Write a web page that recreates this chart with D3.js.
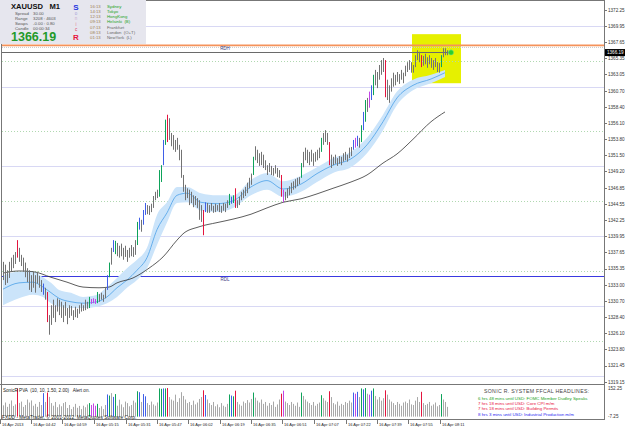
<!DOCTYPE html>
<html><head><meta charset="utf-8">
<script src="https://cdn.jsdelivr.net/npm/d3@7"></script>
<style>body{margin:0;background:#fff}svg{display:block}text{font-family:"Liberation Sans",Arial,sans-serif}</style>
</head><body><svg id="c" width="625" height="429"></svg>
<script>
// ---------- DATA ----------
const highs=[1336.3,1335.9,1335.1,1336.3,1336.9,1337.3,1337.7,1339.4,1338.3,1337.3,1336.9,1336.2,1335.4,1335.1,1334.4,1334.9,1334.4,1334.9,1334.3,1333.7,
1333.2,1332.6,1332.0,1328.7,1330.1,1330.9,1330.1,1331.1,1330.9,1330.6,1330.1,1330.6,1329.7,1330.1,1330.0,1329.4,1329.9,1329.6,1330.1,1330.4,
1330.1,1330.9,1330.6,1331.3,1331.0,1331.1,1331.0,1332.0,1331.7,1331.9,1331.6,1332.7,1334.4,1336.2,1338.3,1339.4,1339.3,1339.0,1338.6,1338.9,
1338.3,1338.6,1338.0,1338.3,1338.7,1338.4,1339.4,1342.0,1342.6,1342.3,1343.7,1344.7,1344.4,1344.3,1344.6,1345.7,1346.3,1346.6,1349.4,1350.1,
1353.7,1356.6,1357.3,1356.8,1354.7,1354.4,1353.7,1354.0,1353.0,1352.3,1348.7,1347.3,1346.8,1346.6,1346.3,1345.8,1345.7,1345.4,1345.1,1344.4,
1343.7,1344.8,1344.7,1344.4,1344.7,1344.3,1344.6,1344.4,1344.7,1344.3,1344.7,1344.6,1345.1,1346.0,1345.6,1345.8,1346.8,1345.1,1345.6,1346.3,
1346.6,1347.0,1347.6,1348.3,1348.9,1351.3,1352.8,1352.3,1351.8,1352.0,1351.6,1350.8,1350.1,1350.4,1350.0,1349.7,1350.1,1349.7,1349.4,1348.7,
1346.6,1346.3,1346.8,1347.1,1347.6,1347.8,1348.1,1348.3,1348.4,1350.4,1352.0,1352.6,1352.3,1352.0,1352.3,1351.8,1352.0,1352.3,1352.6,1354.0,
1354.7,1355.1,1354.7,1353.4,1351.6,1351.3,1351.6,1351.1,1351.4,1351.3,1351.8,1352.0,1351.6,1352.6,1352.7,1353.7,1354.0,1354.3,1354.0,1355.8,
1357.7,1359.4,1359.7,1360.6,1361.5,1363.0,1363.7,1363.4,1364.4,1365.1,1365.4,1365.1,1362.3,1361.5,1362.5,1363.3,1363.0,1363.4,1363.1,1363.7,
1363.3,1364.3,1364.8,1365.1,1364.8,1364.4,1365.8,1366.5,1366.3,1365.8,1365.7,1366.0,1365.5,1365.8,1365.4,1365.1,1365.4,1364.8,1364.7,1365.8,
1366.8,1366.8,1366.5];
const lows=[1333.7,1333.0,1333.3,1334.0,1334.9,1335.4,1336.0,1336.9,1336.3,1335.7,1334.9,1334.1,1333.4,1332.3,1332.0,1332.6,1331.9,1333.2,1332.6,1332.0,
1331.6,1330.9,1327.7,1325.9,1327.3,1328.3,1327.7,1329.2,1328.7,1328.3,1327.7,1328.6,1327.4,1328.3,1328.6,1328.0,1328.4,1328.3,1328.9,1329.2,
1329.3,1329.4,1329.6,1329.7,1330.3,1330.4,1330.3,1330.4,1330.6,1330.9,1330.6,1331.1,1332.3,1334.1,1335.9,1337.7,1337.4,1337.1,1336.9,1337.1,
1336.6,1337.0,1336.3,1336.9,1337.1,1337.0,1337.3,1338.7,1340.9,1340.6,1341.6,1343.0,1343.1,1343.0,1343.4,1344.0,1345.1,1345.4,1345.6,1347.7,
1350.1,1353.0,1353.4,1353.7,1352.8,1352.3,1352.0,1352.3,1350.8,1348.3,1346.3,1345.1,1345.4,1344.4,1344.7,1344.1,1344.4,1344.0,1342.3,1342.0,
1340.1,1343.4,1343.3,1343.3,1343.6,1343.3,1343.4,1343.6,1343.4,1343.3,1343.6,1343.4,1344.0,1344.4,1344.6,1344.7,1344.0,1344.0,1344.4,1345.1,
1345.4,1345.7,1346.1,1346.8,1347.3,1348.7,1350.8,1350.4,1350.0,1350.1,1349.7,1349.4,1348.7,1349.1,1348.7,1348.6,1348.9,1348.4,1348.3,1345.6,
1344.8,1345.1,1345.4,1345.8,1346.1,1346.6,1346.8,1347.1,1347.4,1348.3,1349.8,1350.8,1350.4,1350.1,1350.6,1350.0,1350.6,1350.8,1351.1,1352.0,
1353.0,1353.4,1353.0,1350.1,1349.7,1350.1,1350.3,1350.0,1350.3,1350.1,1350.6,1350.8,1350.6,1351.1,1351.4,1352.3,1352.6,1352.8,1352.6,1353.4,
1355.1,1356.3,1357.7,1358.3,1359.4,1360.1,1361.5,1361.1,1362.3,1363.0,1363.4,1359.8,1359.4,1359.0,1360.6,1361.3,1361.5,1362.0,1361.7,1362.3,
1361.8,1362.8,1363.4,1363.7,1363.3,1363.3,1364.1,1365.1,1364.8,1364.1,1364.3,1364.5,1364.0,1364.5,1364.0,1363.7,1364.1,1363.4,1363.3,1364.1,
1365.5,1365.8,1365.8];
const volumes=[60,75,52,68,86,57,65,150,73,80,52,62,91,75,86,58,68,52,78,62,
125,78,128,105,72,58,78,50,65,55,72,78,46,62,40,52,68,47,57,40,58,50,65,
72,62,70,58,68,46,55,40,62,
118,112,125,105,120,58,90,65,50,80,72,55,62,85,75,
135,130,78,120,108,72,62,80,65,58,75,
150,148,150,150,152,104,91,85,117,78,98,
130,110,91,72,78,62,85,65,75,94,104,
140,115,91,72,62,78,55,65,50,72,58,52,68,
118,112,108,138,78,65,58,80,72,88,75,94,
128,101,85,75,91,68,78,58,72,62,80,52,65,91,
122,138,80,72,62,78,68,58,75,52,
128,110,91,80,72,62,78,58,68,75,114,98,85,78,
135,104,72,65,80,58,68,62,78,72,85,75,
128,122,132,104,150,145,152,122,117,138,150,
110,91,104,85,98,140,117,91,80,72,62,78,68,58,75,80,72,91,65,62,
85,104,78,132,72,62,68,78,58,65,75,55,62,120,91,78,52];
const redBars=[7,22,82,100,116,139,163,191,209];
const blueBars=[20,52,55,68,70,71,80,101,114,175,177,180,184];
const greenBars=[43,47,53,56,67,78,79,81,113,115,125,149,159,179,181,185,219];
const magentaBars=[44,45,46,140,176,183];

const bandBars =[0,8,15,20,24,28,34,40,47,52,57,62,67,72,77,82,87,92,99,107,115,124,132,140,149,157,165,174,182,190,197,205,214,221];
const bandHigh =[1334.4,1334.9,1334.9,1334.1,1333.3,1332.3,1331.9,1331.3,1331.6,1332.7,1334.0,1335.4,1336.6,1338.3,1343.0,1344.8,1347.0,1347.0,1346.1,1345.8,1345.8,1348.0,1349.0,1347.8,1348.6,1349.8,1351.1,1352.0,1354.0,1357.3,1360.6,1362.3,1363.0,1363.7];
const bandLow  =[1330.1,1331.1,1331.6,1331.3,1330.4,1329.9,1329.7,1329.7,1329.9,1330.4,1331.3,1332.6,1333.7,1335.4,1338.7,1341.9,1344.7,1344.8,1343.6,1343.4,1344.0,1345.8,1346.6,1345.6,1346.3,1347.7,1349.0,1349.8,1351.8,1355.1,1358.7,1360.8,1361.8,1362.7];
const bandMid  =[1332.4,1333.3,1333.4,1332.7,1331.9,1331.1,1330.6,1330.4,1330.6,1331.3,1332.6,1333.7,1335.1,1336.9,1340.9,1343.3,1345.8,1346.1,1344.8,1344.6,1345.0,1347.0,1347.9,1346.7,1347.4,1348.9,1350.1,1351.0,1353.0,1356.3,1359.7,1361.5,1362.4,1363.3];
const maBars  =[0,8,15,24,32,40,48,53,57,65,73,80,87,90,98,107,115,124,132,140,149,157,165,174,182,190,197,205,214,221];
const maValues=[1334.7,1335.0,1334.9,1334.1,1333.4,1332.7,1332.6,1332.7,1333.3,1334.0,1335.4,1337.0,1339.4,1340.3,1341.3,1341.9,1342.4,1343.1,1344.0,1344.8,1345.3,1346.0,1346.8,1347.7,1348.7,1350.4,1351.7,1353.8,1356.3,1357.7];

const priceTicks=[1372.25,1369.95,1367.65,1365.35,1363.05,1360.70,1358.40,1356.10,1353.80,1351.50,1349.20,1346.85,1344.55,1342.25,1339.95,1337.65,1335.35,1333.00,1330.70,1328.40,1326.10,1323.80,1321.45,1319.15];
const timeLabels=["16 Apr 2013","16 Apr 04:42","16 Apr 04:59","16 Apr 05:15","16 Apr 05:31","16 Apr 05:47","16 Apr 06:02","16 Apr 06:19","16 Apr 06:35","16 Apr 06:51","16 Apr 07:07","16 Apr 07:22","16 Apr 07:39","16 Apr 07:55","16 Apr 08:11"];
const timeLabelBars=[-1,14.5,30,46,62,77.5,93,109,124.5,140,156,172,187.5,203,219];
const solidLevels=[1370,1361.25,1350,1340,1330,1320];
const dottedLevels=[1365,1355,1345,1335,1325];
const lastPrice=1366.19;
const rdh=1367.2, rdl=1334.3;
const volTicks=[152.25,-7.25];
const headlines=[
 {t:"6 hrs 48 mins until USD: FOMC Member Dudley Speaks",c:"#1aa31a"},
 {t:"7 hrs 18 mins until USD: Core CPI m/m",c:"#e8103a"},
 {t:"7 hrs 18 mins until USD: Building Permits",c:"#e8103a"},
 {t:"8 hrs 3 mins until USD: Industrial Production m/m",c:"#2a2af0"}];
const sessions=[
 ["16:13","Sydney",1],["14:13","Tokyo",1],["12:13","HongKong",1],["09:13","Helsinki  (B)",1],
 ["07:13","Frankfurt",0],["08:13","London  (O+T)",0],["01:13","NewYork  (L)",0]];
const infoRows=[["Spread","30.00"],["Range","3208 : 4603"],["Swaps","-0.00 : 0.80"],["Candle","00:00:34"]];

// ---------- CHART ----------
const svg=d3.select("#c");
const x=d3.scaleLinear().domain([0,301]).range([3,605]);
const y=d3.scaleLinear().domain([1319.15,1372.25]).range([382,10]);
const yv=d3.scaleLinear().domain([-7.25,152.25]).range([418,388]);
const L=2,R=604,T=1,B=383;
const colorOf=i=>redBars.includes(i)?"#e4143e":blueBars.includes(i)?"#3f5fe8":greenBars.includes(i)?"#0ea35a":magentaBars.includes(i)?"#c445e6":null;

svg.append("rect").attr("width",625).attr("height",429).attr("fill","#fff");
svg.append("defs").append("clipPath").attr("id","cp").append("rect").attr("x",L).attr("y",T).attr("width",R-L).attr("height",B-T);
const g=svg.append("g").attr("clip-path","url(#cp)");

g.append("rect").attr("x",x(204.5)).attr("y",y(1368.8)).attr("width",x(229)-x(204.5)).attr("height",y(1361.8)-y(1368.8)).attr("fill","#e6f000");

g.selectAll(".sl").data(solidLevels).join("line").attr("x1",L).attr("x2",R).attr("y1",d=>Math.round(y(d))+0.5).attr("y2",d=>Math.round(y(d))+0.5).attr("stroke","#d8d8f4").attr("stroke-width",1);
g.selectAll(".dl").data(dottedLevels).join("line").attr("x1",L).attr("x2",R).attr("y1",d=>Math.round(y(d))+0.5).attr("y2",d=>Math.round(y(d))+0.5).attr("stroke","#b0d8b0").attr("stroke-dasharray","1,2");

g.append("line").attr("x1",L).attr("x2",R).attr("y1",y(rdh)).attr("y2",y(rdh)).attr("stroke","#f5925a").attr("stroke-width",1.6);
g.append("line").attr("x1",L).attr("x2",R).attr("y1",y(rdh)+2).attr("y2",y(rdh)+2).attr("stroke","#c8c8c8").attr("stroke-dasharray","1,1");
g.append("line").attr("x1",L).attr("x2",x(224.5)).attr("y1",Math.round(y(lastPrice))+0.5).attr("y2",Math.round(y(lastPrice))+0.5).attr("stroke","#6a6a6a");
g.append("text").attr("x",x(111)).attr("y",y(rdh)+5).attr("font-size",4.5).attr("fill","#3a3a80").attr("text-anchor","middle").text("RDH");
g.append("line").attr("x1",L).attr("x2",R).attr("y1",Math.round(y(rdl))+0.5).attr("y2",Math.round(y(rdl))+0.5).attr("stroke","#3a3ae0").attr("stroke-width",1);
g.append("text").attr("x",x(111)).attr("y",y(rdl)+5.5).attr("font-size",4.5).attr("fill","#3a3a80").attr("text-anchor","middle").text("RDL");

const bandData=bandBars.map((b,k)=>({b,h:bandHigh[k],l:bandLow[k],m:bandMid[k]}));
g.append("path").datum(bandData).attr("d",d3.area().curve(d3.curveMonotoneX).x(d=>x(d.b)).y0(d=>y(d.l)).y1(d=>y(d.h))).attr("fill","#cbe4fa");
g.append("path").datum(bandData).attr("d",d3.line().curve(d3.curveMonotoneX).x(d=>x(d.b)).y(d=>y(d.m))).attr("fill","none").attr("stroke","#5aa8ea").attr("stroke-width",0.9);
const maData=maBars.map((b,k)=>({b,v:maValues[k]}));
g.append("path").datum(maData).attr("d",d3.line().curve(d3.curveMonotoneX).x(d=>x(d.b)).y(d=>y(d.v))).attr("fill","none").attr("stroke","#333").attr("stroke-width",0.8);

g.selectAll(".cd").data(highs.map((h,i)=>({i,h,l:lows[i]}))).join("line")
 .attr("x1",d=>Math.round(x(d.i))+0.5).attr("x2",d=>Math.round(x(d.i))+0.5)
 .attr("y1",d=>y(d.h)).attr("y2",d=>y(d.l))
 .attr("stroke",d=>colorOf(d.i)||"#737373").attr("stroke-width",1);

g.append("circle").attr("cx",x(224)).attr("cy",y(lastPrice)).attr("r",2.6).attr("fill","#2ccf2c").attr("stroke","#7be87b").attr("stroke-width",0.6);

svg.append("line").attr("x1",R+0.5).attr("x2",R+0.5).attr("y1",0).attr("y2",420).attr("stroke","#777");
svg.append("line").attr("x1",1.5).attr("x2",1.5).attr("y1",0).attr("y2",420).attr("stroke","#777");
svg.append("line").attr("x1",0).attr("x2",R).attr("y1",0.5).attr("y2",0.5).attr("stroke","#777");
svg.append("line").attr("x1",0).attr("x2",R).attr("y1",384.5).attr("y2",384.5).attr("stroke","#777");
svg.append("line").attr("x1",0).attr("x2",R).attr("y1",419.5).attr("y2",419.5).attr("stroke","#777");

const ax=svg.append("g");
ax.selectAll("line").data(priceTicks).join("line").attr("x1",R).attr("x2",R+3).attr("y1",d=>Math.round(y(d))+0.5).attr("y2",d=>Math.round(y(d))+0.5).attr("stroke","#777");
ax.selectAll("text").data(priceTicks).join("text").attr("x",608).attr("y",d=>y(d)+1.6).attr("font-size",4.6).attr("fill","#333").text(d=>d.toFixed(2));
svg.append("rect").attr("x",605).attr("y",y(lastPrice)-3.4).attr("width",20).attr("height",7).attr("fill","#000");
svg.append("text").attr("x",607).attr("y",y(lastPrice)+1.7).attr("font-size",4.6).attr("fill","#fff").text(lastPrice.toFixed(2));

const vg=svg.append("g");
vg.selectAll("line").data(volumes.map((v,i)=>({v,i}))).join("line")
 .attr("x1",d=>Math.round(x(d.i))+0.5).attr("x2",d=>Math.round(x(d.i))+0.5)
 .attr("y1",yv(0)).attr("y2",d=>yv(d.v))
 .attr("stroke",d=>colorOf(d.i)||"#a8a8a8").attr("stroke-width",1);
svg.selectAll(".vt").data(volTicks).join("text").attr("x",608).attr("y",(d,k)=>k?417.5:390).attr("font-size",4.6).attr("fill","#333").text(d=>d.toFixed(2));
svg.append("text").attr("x",3).attr("y",391.5).attr("font-size",4.6).attr("fill","#222").attr("xml:space","preserve").text("SonicR PVA  (10, 10, 1.50, 2.00)   Alert on.");
svg.append("text").attr("x",484).attr("y",393).attr("font-size",5.2).attr("fill","#444").attr("letter-spacing",0.3).text("SONIC R. SYSTEM FFCAL HEADLINES:");
svg.selectAll(".hl").data(headlines).join("text").attr("x",478).attr("y",(d,k)=>400+k*5.2).attr("font-size",4.4).attr("fill",d=>d.c).text(d=>d.t);
svg.append("text").attr("x",2).attr("y",418.5).attr("font-size",4.8).attr("fill","#222").text("FXDD - MetaTrader, © 2001-2012, MetaQuotes Software Corp.");

const tg=svg.append("g");
tg.selectAll("line").data(timeLabelBars).join("line").attr("x1",d=>Math.round(x(d))-0.5).attr("x2",d=>Math.round(x(d))-0.5).attr("y1",420).attr("y2",424).attr("stroke","#777");
tg.selectAll("text").data(timeLabels).join("text").attr("x",(d,k)=>x(timeLabelBars[k])+1).attr("y",426).attr("font-size",4.0).attr("fill","#222").text(d=>d);

const ip=svg.append("g");
ip.append("rect").attr("x",0).attr("y",0).attr("width",146).attr("height",44).attr("fill","#e6e6ee");
ip.append("text").attr("x",11).attr("y",9).attr("font-size",7.6).attr("font-weight","bold").attr("fill","#111").attr("xml:space","preserve").text("XAUUSD   M1");
infoRows.forEach((r,k)=>{
  ip.append("text").attr("x",15).attr("y",15+k*5).attr("font-size",4.3).attr("fill","#555").text(r[0]);
  ip.append("text").attr("x",33).attr("y",15+k*5).attr("font-size",4.3).attr("fill","#555").text(r[1]);
});
ip.append("text").attr("x",11).attr("y",41).attr("font-size",12.5).attr("font-weight","bold").attr("fill","#1f9a2a").text(lastPrice.toFixed(2));
ip.append("text").attr("x",76).attr("y",9.5).attr("font-size",8).attr("font-weight","bold").attr("fill","#2434e0").attr("text-anchor","middle").text("S");
[["o","#a0a0d8"],["n","#c8b0d0"],["i","#e07090"],["c","#e04060"]].forEach((c,k)=>ip.append("text").attr("x",76).attr("y",15+k*5.3).attr("font-size",4.5).attr("fill",c[1]).attr("text-anchor","middle").text(c[0]));
ip.append("text").attr("x",76).attr("y",40).attr("font-size",8).attr("font-weight","bold").attr("fill","#e8143c").attr("text-anchor","middle").text("R");
sessions.forEach((s,k)=>{
  ip.append("text").attr("x",90).attr("y",7.5+k*5.3).attr("font-size",4.3).attr("fill","#a08050").text(s[0]);
  ip.append("text").attr("x",107).attr("y",7.5+k*5.3).attr("font-size",4.3).attr("fill",s[2]?"#1aa31a":"#666").attr("xml:space","preserve").text(s[1]);
});
</script></body></html>
